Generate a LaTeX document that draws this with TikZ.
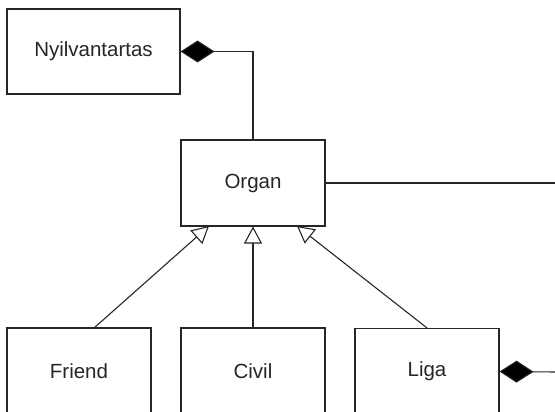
\documentclass[tikz,border=0pt]{standalone}
\usepackage{fontspec}
\setmainfont{Liberation Sans}
\usetikzlibrary{arrows.meta}
\begin{document}
\begin{tikzpicture}[x=1pt,y=-1pt,
  cls/.style={draw=black!85, line width=1.1pt, fill=white, minimum width=144pt, minimum height=86pt,
    inner sep=0pt, font=\fontsize{20.5}{24}\selectfont, text=black!85},
  conn/.style={draw=black!85, line width=1.1pt},
  comp/.style={conn, {Diamond[length=34pt,width=22pt,fill=black]}-},
  gen/.style={conn, -{Triangle[open,length=17pt,width=18pt,fill=white]}}]
\useasboundingbox (0,0) rectangle (555,412);
\clip (0,0) rectangle (555,412);
\node[cls, minimum width=173pt, minimum height=85pt] (nyil) at (93.5,51.5) {Nyilvantartas};
\node[cls] (organ) at (253,183) {Organ};
\node[cls] (friend) at (79,371) {Friend};
\node[cls] (civil) at (253,371) {Civil};
\node[cls] (liga) at (427,371.5) {Liga};
\coordinate (rE) at (556,183);
\coordinate (rL) at (556,372);
\coordinate (fT) at (94,328);
\coordinate (oL) at (209,226);
\coordinate (oR) at (297,226);
\draw[comp] (nyil.east) -- (nyil.east -| organ.north) -- (organ.north);
\draw[conn] (organ.east) -- (rE);
\draw[gen] (fT) -- (oL);
\draw[gen] (civil.north) -- (organ.south);
\draw[gen] (liga.north) -- (oR);
\draw[comp] (liga.east) -- (rL);
\end{tikzpicture}
\end{document}
